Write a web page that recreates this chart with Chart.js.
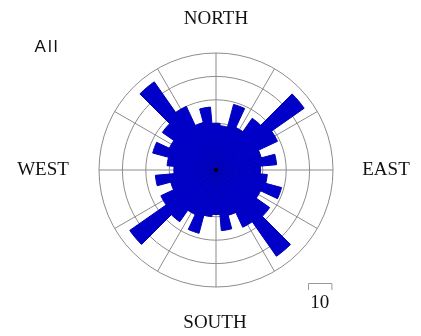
<!DOCTYPE html>
<html>
<head>
<meta charset="utf-8">
<script src="https://cdn.jsdelivr.net/npm/chart.js@4/dist/chart.umd.min.js"></script>
<style>
  html, body { margin: 0; padding: 0; background: #fff; }
  #rose { display: block; }
</style>
</head>
<body>
<canvas id="rose" width="421" height="336"></canvas>
<script>
// rose diagram, 10 degree bins centred on 0, 10, 20 ... 350
const directions = [];
for (let d = 0; d < 360; d += 10) directions.push(d + '°');

const counts = [
  20, 19, 29, 20, 27, 46, 29, 20, 26,
  19, 22, 29, 21, 28, 45, 27, 20, 26,
  19, 20, 28, 21, 27, 45, 26, 20, 26,
  18, 21, 28, 22, 28, 46, 30, 21, 27
];

const ringTicks = [10, 20, 30, 40, 50];
const spokeAngles = [0, 30, 60, 90, 120, 150, 180, 210, 240, 270, 300, 330];
const compass = ['NORTH', 'EAST', 'SOUTH', 'WEST'];
const setName = 'All';
const scaleBarValue = 10;

const gridColor = '#8c8c8c';
const serif = '19px "Liberation Serif", "Times New Roman", serif';

// spokes every 30 degrees, under the bars
const spokes = {
  id: 'spokes',
  beforeDatasetsDraw(chart) {
    const r = chart.scales.r;
    const len = r.getDistanceFromCenterForValue(ringTicks[ringTicks.length - 1]);
    const ctx = chart.ctx;
    ctx.save();
    ctx.strokeStyle = gridColor;
    ctx.lineWidth = 1;
    spokeAngles.forEach(a => {
      const t = a * Math.PI / 180;
      ctx.beginPath();
      ctx.moveTo(r.xCenter, r.yCenter);
      ctx.lineTo(r.xCenter + len * Math.sin(t), r.yCenter - len * Math.cos(t));
      ctx.stroke();
    });
    ctx.restore();
  }
};

// compass words, set name, centre dot and the scale bar
const labels = {
  id: 'labels',
  afterDraw(chart) {
    const r = chart.scales.r;
    const ctx = chart.ctx;
    const cx = r.xCenter, cy = r.yCenter;
    ctx.save();
    ctx.fillStyle = '#111';
    ctx.font = serif;
    ctx.textAlign = 'center';
    ctx.textBaseline = 'middle';
    ctx.fillText(compass[0], cx, 19);
    ctx.fillText(compass[2], cx - 1, 323);
    ctx.fillText(compass[3], 43, cy);
    ctx.fillText(compass[1], 386, cy);

    ctx.font = '17px "Liberation Sans", Arial, sans-serif';
    ctx.letterSpacing = '2px';
    ctx.fillText(setName, 47, 47);
    ctx.letterSpacing = '0px';

    // centre dot
    ctx.beginPath();
    ctx.arc(cx, cy, 2, 0, Math.PI * 2);
    ctx.fillStyle = '#000';
    ctx.fill();

    // scale bar
    const w = r.getDistanceFromCenterForValue(scaleBarValue);
    const x0 = 308, y0 = 283;
    ctx.strokeStyle = '#999';
    ctx.lineWidth = 1;
    ctx.beginPath();
    ctx.moveTo(x0 + 0.5, y0 + 7);
    ctx.lineTo(x0 + 0.5, y0 + 0.5);
    ctx.lineTo(x0 + w + 0.5, y0 + 0.5);
    ctx.lineTo(x0 + w + 0.5, y0 + 7);
    ctx.stroke();
    ctx.fillStyle = '#111';
    ctx.font = serif;
    ctx.fillText(String(scaleBarValue), x0 + w / 2, 303);
    ctx.restore();
  }
};

new Chart(document.getElementById('rose'), {
  type: 'polarArea',
  data: {
    labels: directions,
    datasets: [{
      data: counts,
      backgroundColor: '#0000c8',
      borderColor: '#0000b4',
      borderWidth: 1
    }]
  },
  options: {
    responsive: false,
    animation: false,
    layout: { padding: { top: 53, bottom: 49, left: 99, right: 88 } },
    plugins: {
      legend: { display: false },
      tooltip: { enabled: false }
    },
    scales: {
      r: {
        min: 0,
        max: 50,
        startAngle: -5,
        ticks: { display: false, stepSize: 10 },
        grid: { circular: true, color: gridColor, lineWidth: 1 },
        angleLines: { display: false },
        pointLabels: { display: false }
      }
    }
  },
  plugins: [spokes, labels]
});
</script>
</body>
</html>
